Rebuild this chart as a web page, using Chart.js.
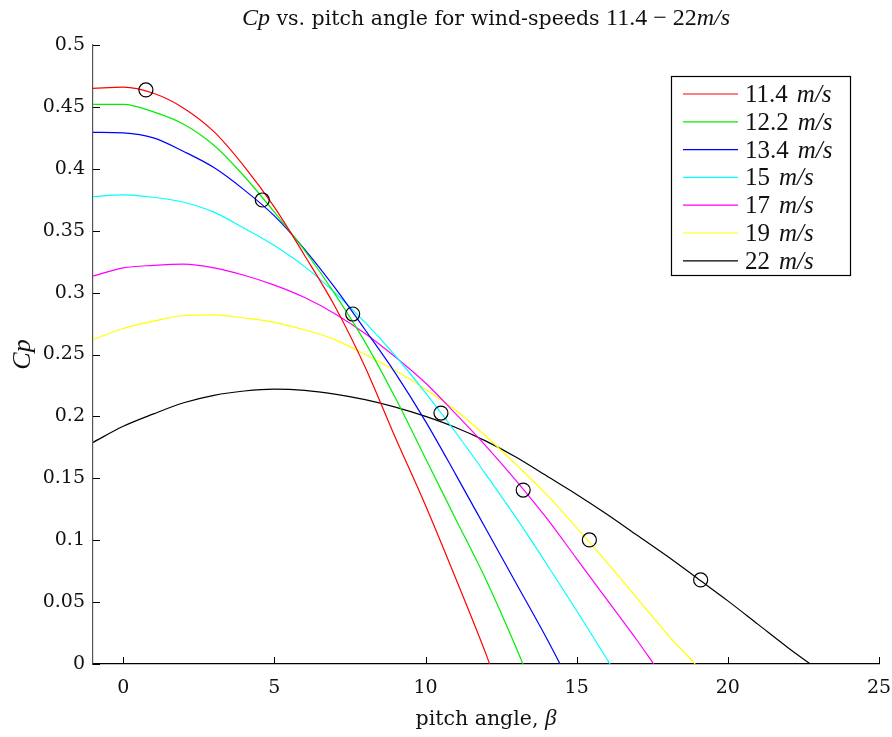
<!DOCTYPE html>
<html>
<head>
<meta charset="utf-8">
<script src="https://cdn.jsdelivr.net/npm/chart.js@4.4.1/dist/chart.umd.min.js"></script>
<style>
  html, body { margin: 0; padding: 0; background: #fff; }
  #wrap { width: 892px; height: 737px; position: relative; }
</style>
</head>
<body>
<div id="wrap"><canvas id="cp_chart"></canvas></div>
<script>
// pitch angle steps (deg), each curve is sampled on these until it hits Cp = 0
const beta = [-1, 0, 1, 2, 3, 4, 5, 6, 7, 8, 9, 10, 11, 12, 13, 14, 15, 16, 17, 18, 19, 20, 21, 22];

const cp_11_4 = [0.465, 0.466, 0.461, 0.449, 0.430, 0.402, 0.369, 0.330, 0.289, 0.240, 0.183, 0.128, 0.069, 0.008];
const cp_12_2 = [0.452, 0.452, 0.446, 0.436, 0.419, 0.394, 0.365, 0.334, 0.299, 0.260, 0.215, 0.166, 0.117, 0.068, 0.013];
const cp_13_4 = [0.4295, 0.429, 0.425, 0.414, 0.401, 0.383, 0.362, 0.335, 0.304, 0.270, 0.235, 0.196, 0.153, 0.109, 0.065, 0.021];
const cp_15 = [0.3775, 0.379, 0.377, 0.373, 0.365, 0.352, 0.338, 0.321, 0.300, 0.276, 0.249, 0.219, 0.187, 0.153, 0.118, 0.081, 0.043, 0.004];
const cp_17 = [0.3134, 0.320, 0.322, 0.323, 0.320, 0.314, 0.306, 0.296, 0.283, 0.267, 0.248, 0.227, 0.202, 0.176, 0.148, 0.118, 0.085, 0.052, 0.019];
const cp_19 = [0.262, 0.271, 0.277, 0.2815, 0.282, 0.2795, 0.276, 0.270, 0.262, 0.250, 0.237, 0.222, 0.205, 0.184, 0.161, 0.137, 0.110, 0.082, 0.053, 0.024];
const cp_22 = [0.179, 0.192, 0.202, 0.211, 0.217, 0.2205, 0.222, 0.221, 0.218, 0.2135, 0.2075, 0.200, 0.191, 0.180, 0.167, 0.152, 0.137, 0.121, 0.104, 0.087, 0.069, 0.051, 0.032, 0.013];

// pitch angle where each curve reaches zero
const zeroAt = [12.12, 13.22, 14.45, 16.1, 17.55, 18.92, 22.73];

const speedLabels = ['11.4', '12.2', '13.4', '15', '17', '19', '22'];
const lineColors = ['#ff0000', '#00ee00', '#0000ff', '#00ffff', '#ff00ff', '#ffff00', '#000000'];

// optimum points (circles)
const optBeta = [0.75, 4.6, 7.59, 10.51, 13.23, 15.42, 19.1];
const optCp = [0.4637, 0.3748, 0.2827, 0.2027, 0.1405, 0.1002, 0.0679];

const xTicks = [0, 5, 10, 15, 20, 25];
const yTicks = [0, 0.05, 0.1, 0.15, 0.2, 0.25, 0.3, 0.35, 0.4, 0.45, 0.5];

const allCurves = [cp_11_4, cp_12_2, cp_13_4, cp_15, cp_17, cp_19, cp_22];

const textFont = '"DejaVu Serif", serif';
const mathFont = '"Liberation Serif", "DejaVu Serif", serif';

const datasets = allCurves.map((vals, i) => {
    const pts = vals.map((v, k) => ({ x: beta[k], y: v }));
    pts.push({ x: zeroAt[i], y: 0 });
    return {
        label: speedLabels[i] + ' m/s',
        data: pts,
        borderColor: lineColors[i],
        backgroundColor: lineColors[i],
        borderWidth: 1.2,
        pointRadius: 0,
        cubicInterpolationMode: 'monotone',
        showLine: true,
        order: 2
    };
});

datasets.push({
    label: 'optimum',
    data: optBeta.map((b, i) => ({ x: b, y: optCp[i] })),
    showLine: false,
    pointRadius: 7,
    pointBorderColor: '#000',
    pointBackgroundColor: 'rgba(0,0,0,0)',
    pointBorderWidth: 1.2,
    order: 1
});

// draw text made of pieces: {t, f (font string), gap}
const drawParts = (ctx, parts, x, y, align) => {
    let total = 0;
    parts.forEach(p => {
        ctx.font = p.f;
        total += ctx.measureText(p.t).width + (p.gap || 0);
    });
    let cx = align === 'center' ? x - total / 2 : x;
    ctx.textAlign = 'left';
    ctx.textBaseline = 'alphabetic';
    parts.forEach(p => {
        ctx.font = p.f;
        ctx.fillText(p.t, cx, y);
        cx += ctx.measureText(p.t).width + (p.gap || 0);
    });
};

const decorPlugin = {
    id: 'decor',
    afterDraw(chart) {
        const ctx = chart.ctx;
        const area = chart.chartArea;
        const xs = chart.scales.x;
        const ys = chart.scales.y;
        ctx.save();
        ctx.fillStyle = '#111';

        // inward tick marks
        ctx.strokeStyle = '#000';
        ctx.lineWidth = 1;
        ctx.beginPath();
        xTicks.forEach(v => {
            const px = Math.round(xs.getPixelForValue(v)) + 0.5;
            ctx.moveTo(px, area.bottom);
            ctx.lineTo(px, area.bottom - 7);
        });
        yTicks.forEach(v => {
            const py = Math.round(ys.getPixelForValue(v)) + 0.5;
            ctx.moveTo(area.left, py);
            ctx.lineTo(area.left + 7, py);
        });
        ctx.stroke();

        const mathIt = sz => 'italic ' + sz + 'px ' + mathFont;
        const mathUp = sz => sz + 'px ' + mathFont;
        const txt = sz => sz + 'px ' + textFont;

        // title
        drawParts(ctx, [
            { t: 'Cp', f: mathIt(24) },
            { t: ' vs. pitch angle for wind-speeds ', f: txt(20.5) },
            { t: '11.4 \u2212 22', f: mathUp(24) },
            { t: 'm/s', f: mathIt(24) }
        ], (area.left + area.right) / 2, 25, 'center');

        // axis titles
        drawParts(ctx, [
            { t: 'pitch angle, ', f: txt(20.5) },
            { t: '\u03b2', f: mathIt(23) }
        ], (area.left + area.right) / 2, 725, 'center');

        ctx.save();
        ctx.translate(30, (area.top + area.bottom) / 2);
        ctx.rotate(-Math.PI / 2);
        drawParts(ctx, [{ t: 'Cp', f: mathIt(26) }], 0, 0, 'center');
        ctx.restore();

        // legend box
        const bx = 671, by = 76, bw = 179, bh = 199;
        ctx.fillStyle = '#fff';
        ctx.fillRect(bx, by, bw, bh);
        ctx.strokeStyle = '#000';
        ctx.lineWidth = 1.2;
        ctx.strokeRect(bx + 0.5, by + 0.5, bw, bh);
        speedLabels.forEach((s, i) => {
            const ry = 94 + i * 27.8;
            ctx.strokeStyle = lineColors[i];
            ctx.lineWidth = 1.2;
            ctx.beginPath();
            ctx.moveTo(683, ry);
            ctx.lineTo(738, ry);
            ctx.stroke();
            ctx.fillStyle = '#111';
            drawParts(ctx, [
                { t: s, f: mathUp(25), gap: 9 },
                { t: 'm/s', f: mathIt(25) }
            ], 745, ry + 8, 'left');
        });
        ctx.restore();
    }
};

new Chart(document.getElementById('cp_chart'), {
    type: 'scatter',
    data: { datasets: datasets },
    options: {
        responsive: true,
        maintainAspectRatio: false,
        animation: false,
        layout: { padding: { top: 45, right: 13, left: 0, bottom: 0 } },
        plugins: {
            legend: { display: false },
            tooltip: { enabled: false }
        },
        scales: {
            x: {
                type: 'linear',
                min: -1,
                max: 25,
                afterBuildTicks: s => { s.ticks = xTicks.map(v => ({ value: v })); },
                afterFit: s => { s.height = 73; s.paddingLeft = 0; s.paddingRight = 0; },
                grid: { display: false, drawTicks: false },
                border: { display: true, color: '#000', width: 1.2 },
                ticks: {
                    color: '#111',
                    padding: 13,
                    font: { family: textFont, size: 19 },
                    callback: v => String(v)
                }
            },
            y: {
                type: 'linear',
                min: 0,
                max: 0.5,
                afterBuildTicks: s => { s.ticks = yTicks.map(v => ({ value: v })); },
                afterFit: s => { s.width = 93; s.paddingTop = 0; s.paddingBottom = 0; },
                grid: { display: false, drawTicks: false },
                border: { display: true, color: '#555', width: 1.2 },
                ticks: {
                    color: '#111',
                    padding: 8,
                    font: { family: textFont, size: 19 },
                    callback: v => String(+v.toFixed(2))
                }
            }
        }
    },
    plugins: [decorPlugin]
});
</script>
</body>
</html>
